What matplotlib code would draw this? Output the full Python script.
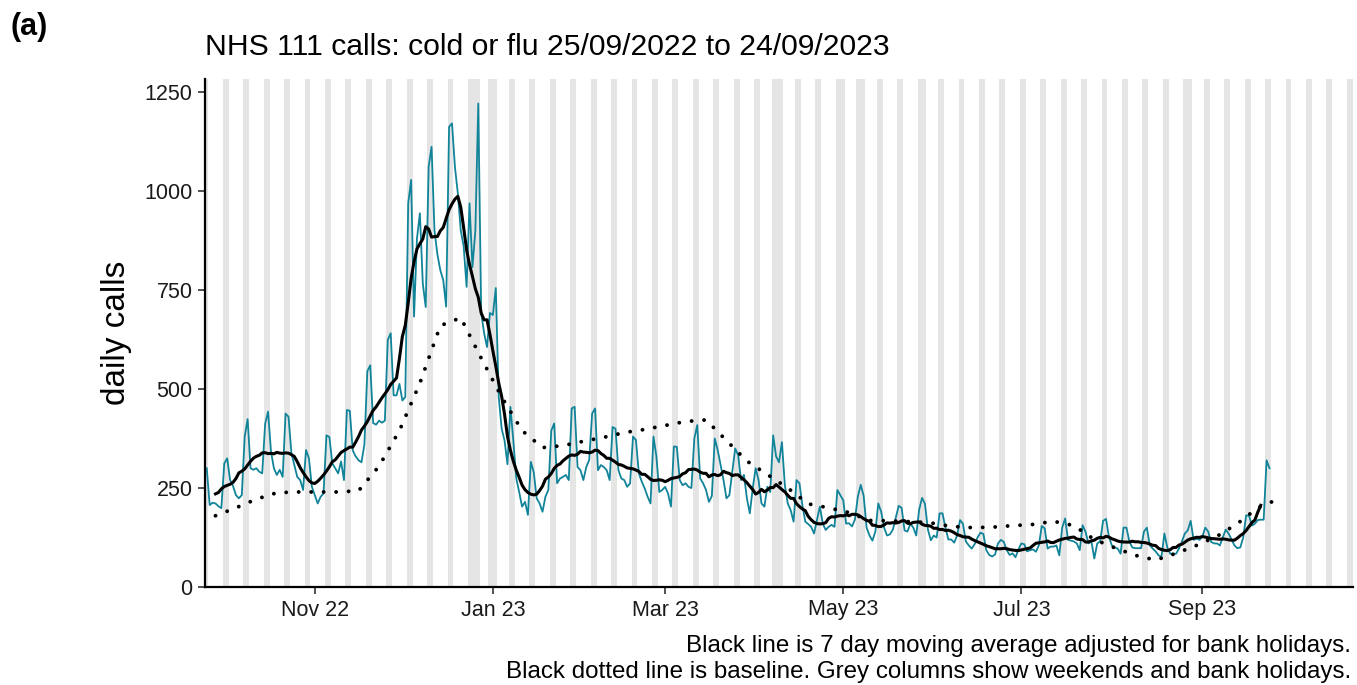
import numpy as np
import pandas as pd
import matplotlib
matplotlib.use("Agg")
import matplotlib.pyplot as plt
import matplotlib.dates as mdates

plt.rcParams['font.family'] = ['Liberation Sans', 'DejaVu Sans']

# daily NHS 111 calls (cold or flu), first day Sun 25/09/2022
calls = [
    300,
    207, 213, 211, 204, 199, 312, 325,      # w/c 26 Sep
    270, 255, 232, 224, 232, 380, 424,      # 3 Oct
    300, 296, 300, 291, 287, 412, 443,      # 10 Oct
    342, 300, 283, 296, 278, 438, 430,      # 17 Oct
    338, 308, 278, 270, 245, 346, 325,      # 24 Oct
    253, 232, 211, 228, 236, 383, 379,      # 31 Oct
    312, 300, 287, 317, 270, 447, 445,      # 7 Nov
    345, 330, 320, 315, 360, 545, 560,      # 14 Nov
    414, 410, 420, 415, 420, 624, 641,      # 21 Nov
    484, 484, 513, 471, 480, 969, 1028,     # 28 Nov
    683, 880, 944, 766, 707, 1061, 1112,    # 5 Dec
    900, 840, 800, 775, 708, 1162, 1171,    # 12 Dec
    1061, 994, 901, 860, 758, 969, 808,     # 19 Dec
    900, 1221, 692, 641, 606, 692, 687,     # 26 Dec
    755, 480, 400, 370, 310, 455, 370,      # 2 Jan
    275, 240, 203, 215, 182, 316, 290,      # 9 Jan
    224, 211, 190, 228, 245, 395, 413,      # 16 Jan
    262, 274, 278, 283, 270, 451, 455,      # 23 Jan
    303, 295, 270, 303, 321, 438, 451,      # 30 Jan
    295, 308, 303, 295, 270, 404, 400,      # 6 Feb
    295, 274, 270, 253, 262, 380, 371,      # 13 Feb
    287, 266, 249, 228, 211, 380, 330,      # 20 Feb
    240, 245, 253, 236, 203, 355, 354,      # 27 Feb
    270, 257, 262, 253, 250, 375, 409,      # 6 Mar
    274, 262, 245, 215, 230, 375, 346,      # 13 Mar
    308, 270, 224, 232, 291, 350, 333,      # 20 Mar
    270, 283, 224, 186, 249, 300, 270,      # 27 Mar
    211, 203, 253, 240, 383, 330, 315,      # 3 Apr
    366, 257, 211, 194, 165, 270, 262,      # 10 Apr
    207, 165, 159, 152, 135, 169, 203,      # 17 Apr
    160, 144, 152, 157, 152, 245, 232,      # 24 Apr
    219, 160, 161, 153, 170, 228, 258,      # 1 May
    230, 150, 130, 117, 140, 211, 190,      # 8 May
    150, 130, 133, 145, 175, 205, 200,      # 15 May
    143, 140, 160, 150, 130, 195, 225,      # 22 May
    210, 145, 118, 130, 125, 186, 186,      # 29 May
    150, 120, 120, 112, 130, 169, 160,      # 5 Jun
    115, 105, 97, 108, 125, 137, 134,       # 12 Jun
    93, 81, 77, 82, 110, 119, 114,          # 19 Jun
    93, 81, 85, 75, 95, 110, 108,           # 26 Jun
    90, 93, 95, 89, 105, 154, 148,          # 3 Jul
    97, 102, 102, 105, 80, 150, 173,        # 10 Jul
    119, 117, 115, 110, 93, 156, 139,       # 17 Jul
    110, 115, 72, 110, 115, 167, 172,       # 24 Jul
    127, 105, 100, 97, 84, 150, 150,        # 31 Jul
    115, 100, 98, 98, 98, 140, 150,         # 7 Aug
    105, 97, 90, 80, 76, 135, 100,          # 14 Aug
    84, 84, 84, 97, 115, 135, 143,          # 21 Aug
    167, 119, 122, 119, 127, 150, 140,      # 28 Aug
    114, 110, 110, 105, 125, 145, 135,      # 4 Sep
    120, 105, 98, 100, 125, 181, 180,       # 11 Sep
    155, 160, 169, 170, 170, 320, 300,      # 18 Sep
]

# weekly baseline values, first point Wed 28/09/2022
baseline = [180, 200, 222, 238, 240, 240, 240, 243, 305, 395,
            515, 660, 680, 578, 480, 395, 352, 357, 368, 378,
            390, 398, 408, 418, 422, 370, 318, 284, 250, 210,
            200, 188, 168, 167, 165, 162, 153, 150, 151, 155,
            158, 166, 155, 120, 99, 80, 68, 85, 105, 128,
            160, 200, 222]

bank_holidays = ['2022-12-26', '2022-12-27', '2023-01-02', '2023-04-07',
                 '2023-04-10', '2023-05-01', '2023-05-08', '2023-05-29',
                 '2023-08-28']

start = pd.Timestamp('2022-09-25')
dates = pd.date_range(start, periods=len(calls), freq='D')
bh = set(pd.to_datetime(bank_holidays))

# moving average adjusted for bank holidays: a bank holiday counts as an
# ordinary weekday (mean of the same weekday a week before and after)
is_bh = [d in bh for d in dates]
adj = list(calls)
for i in range(len(calls)):
    if is_bh[i]:
        vals = []
        j = i - 7
        while j >= 0 and is_bh[j]:
            j -= 7
        if j >= 0:
            vals.append(calls[j])
        k = i + 7
        while k < len(calls) and is_bh[k]:
            k += 7
        if k < len(calls):
            vals.append(calls[k])
        adj[i] = np.mean(vals)
ma = pd.Series(adj, dtype=float).rolling(7, center=True).mean()

base_dates = pd.date_range('2022-09-28', periods=len(baseline), freq='7D')

fig = plt.figure(figsize=(13.57, 6.85), dpi=100)
ax = fig.add_axes([205 / 1357, 1 - 587 / 685, (1353 - 205) / 1357, (587 - 79) / 685])

# grey columns: weekends and bank holidays
all_days = pd.date_range(start - pd.Timedelta(days=1), start + pd.Timedelta(days=394), freq='D')
grey = [(d.dayofweek >= 5) or (d in bh) for d in all_days]
i = 0
while i < len(all_days):
    if grey[i]:
        j = i
        while j + 1 < len(all_days) and grey[j + 1]:
            j += 1
        x0 = mdates.date2num(all_days[i]) - 0.5
        x1 = mdates.date2num(all_days[j]) + 0.5
        ax.axvspan(x0, x1, color='#e5e5e5', lw=0, zorder=0)
        i = j + 1
    else:
        i += 1

ax.plot(dates, calls, color='#12849a', lw=1.3, zorder=2)
ax.plot(dates, ma, color='black', lw=2.2, zorder=3)
ax.plot(base_dates, baseline, color='black', lw=2.8, linestyle=(0, (0.01, 3.2)),
        dash_capstyle='round', zorder=3)

ax.set_xlim(mdates.date2num(start) - 0.6, mdates.date2num(start) + 392.6)
ax.set_ylim(0, 1283)
ax.set_yticks([0, 250, 500, 750, 1000, 1250])
ax.xaxis.set_major_locator(mdates.MonthLocator(bymonth=[1, 3, 5, 7, 9, 11]))
ax.xaxis.set_major_formatter(mdates.DateFormatter('%b %y'))

for s in ['top', 'right']:
    ax.spines[s].set_visible(False)
for s in ['left', 'bottom']:
    ax.spines[s].set_linewidth(1.6)
ax.tick_params(axis='both', labelsize=15.5, length=5, width=1.2, pad=4,
               color='#333333', labelcolor='#1a1a1a')

ax.set_ylabel('daily calls', fontsize=24, labelpad=9)

fig.text(205 / 1357, 1 - 47 / 685, 'NHS 111 calls: cold or flu 25/09/2022 to 24/09/2023',
         fontsize=21.7, ha='left', va='center')
fig.text(10 / 1357, 1 - 27 / 685, '(a)', fontsize=22, fontweight='bold', ha='left', va='center')
fig.text(1351 / 1357, 1 - 646 / 685,
         'Black line is 7 day moving average adjusted for bank holidays.',
         fontsize=17.4, ha='right', va='center')
fig.text(1351 / 1357, 1 - 672 / 685,
         'Black dotted line is baseline. Grey columns show weekends and bank holidays.',
         fontsize=17.4, ha='right', va='center')

fig.savefig('out.png', dpi=100)
